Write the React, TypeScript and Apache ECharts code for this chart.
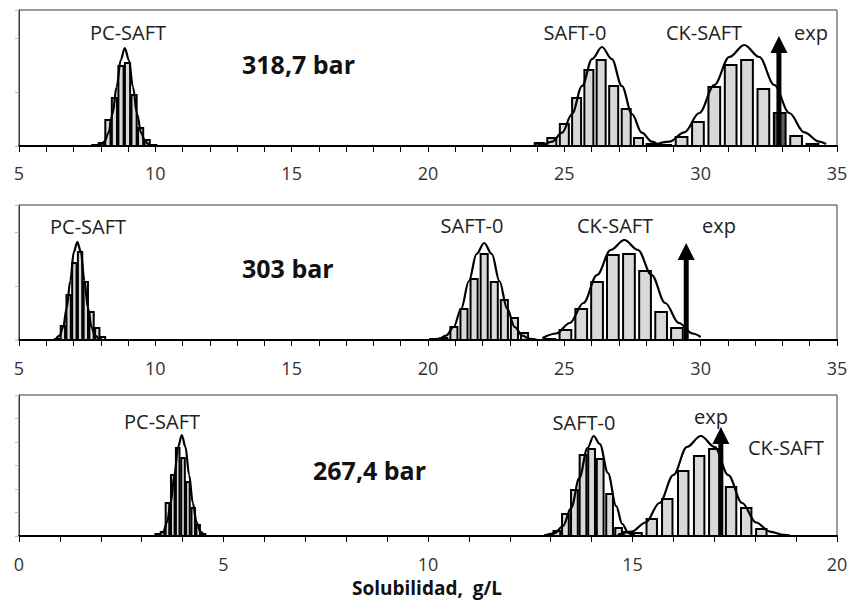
import React, { useEffect, useRef } from "react";
import * as echarts from "echarts";

// ---------- Data (x = solubility g/L, y = relative frequency) ----------
const modelNames = ["PC-SAFT", "SAFT-0", "CK-SAFT"];
const pressureLabels = ["318,7 bar", "303 bar", "267,4 bar"];
const expLabel = "exp";
const axisTitle = "Solubilidad,  g/L";

// Panel 1: 318,7 bar
const p1PcBars = [[7.78, 1], [8.02, 3], [8.26, 26], [8.5, 48], [8.74, 80], [8.98, 83], [9.22, 51], [9.46, 18], [9.7, 6], [9.94, 1]];
const p1PcCurve = [[7.83, 0.2], [7.98, 1.1], [8.13, 4.3], [8.28, 13], [8.43, 32], [8.58, 59], [8.73, 86], [8.88, 98], [9.03, 86], [9.18, 59], [9.33, 32], [9.48, 13], [9.63, 4.3], [9.78, 1.1], [9.93, 0.2]];
const p1SaftBars = [[24.08, 3], [24.54, 8], [25.0, 22], [25.45, 48], [25.9, 76], [26.35, 86], [26.81, 60], [27.27, 37], [27.72, 8], [28.18, 2]];
const p1SaftCurve = [[23.95, 0.3], [24.18, 1.1], [24.55, 4.3], [24.92, 13.4], [25.28, 32], [25.65, 60], [26.02, 87], [26.38, 99], [26.74, 87], [27.11, 60], [27.48, 32], [27.84, 13.4], [28.21, 4.3], [28.4, 2]];
const p1CkBars = [[28.7, 1], [29.3, 9], [29.9, 24], [30.5, 59], [31.1, 81], [31.7, 86], [32.3, 57], [32.9, 33], [33.5, 10], [34.1, 2]];
const p1CkCurve = [[28.3, 1.1], [28.85, 4.4], [29.4, 13.7], [29.95, 33], [30.5, 61], [31.05, 89], [31.6, 101], [32.15, 89], [32.7, 61], [33.25, 33], [33.8, 13.7], [34.35, 4.4], [34.6, 2]];
const p1Exp = [[32.87, 110]];

// Panel 2: 303 bar
const p2PcBars = [[6.4, 1], [6.61, 14], [6.82, 45], [7.03, 77], [7.24, 88], [7.45, 58], [7.66, 28], [7.87, 12], [8.08, 3]];
const p2PcCurve = [[6.36, 1.1], [6.49, 4.3], [6.62, 13], [6.75, 32], [6.88, 59], [7.01, 88], [7.14, 98], [7.27, 88], [7.4, 59], [7.53, 32], [7.66, 13], [7.79, 4.3], [7.92, 1.1]];
const p2SaftBars = [[20.21, 1], [20.58, 2], [20.95, 13], [21.32, 31], [21.69, 61], [22.06, 86], [22.43, 58], [22.8, 40], [23.17, 22], [23.54, 7]];
const p2SaftCurve = [[20.1, 0.2], [20.38, 1.1], [20.66, 4.3], [20.94, 13], [21.22, 31.5], [21.5, 59], [21.78, 86], [22.06, 97], [22.34, 86], [22.62, 59], [22.9, 31.5], [23.18, 13], [23.46, 4.3], [23.74, 1.1], [24.0, 0.2]];
const p2CkBars = [[24.45, 1], [25.04, 10], [25.62, 31], [26.2, 58], [26.78, 85], [27.37, 86], [27.96, 69], [28.55, 28], [29.13, 12]];
const p2CkCurve = [[24.2, 2], [24.7, 6.5], [25.2, 17], [25.7, 37], [26.2, 65], [26.7, 90], [27.2, 100], [27.7, 90], [28.2, 65], [28.7, 37], [29.2, 17], [29.7, 6.5], [30.0, 3]];
const p2Exp = [[29.47, 97]];

// Panel 3: 267,4 bar
const p3PcBars = [[3.38, 2], [3.51, 4], [3.63, 33], [3.76, 61], [3.88, 88], [4.01, 78], [4.13, 54], [4.26, 28], [4.38, 11], [4.51, 2]];
const p3PcCurve = [[3.44, 1.1], [3.53, 4.4], [3.62, 14], [3.71, 33], [3.8, 61], [3.89, 89], [3.98, 101], [4.07, 89], [4.16, 61], [4.25, 33], [4.34, 14], [4.43, 4.4], [4.52, 1.1]];
const p3SaftBars = [[12.95, 1], [13.15, 5], [13.36, 22], [13.58, 46], [13.79, 81], [14.0, 87], [14.21, 77], [14.44, 42], [14.66, 8], [14.87, 4]];
const p3SaftCurve = [[12.85, 0.5], [13.1, 3], [13.3, 10], [13.5, 28], [13.7, 58], [13.9, 88], [14.05, 100], [14.2, 92], [14.4, 63], [14.6, 30], [14.75, 12], [14.9, 3], [15.05, 0.5]];
const p3CkBars = [[15.1, 3], [15.47, 17], [15.85, 37], [16.24, 65], [16.63, 80], [17.0, 87], [17.41, 49], [17.78, 28], [18.15, 7]];
const p3CkCurve = [[14.64, 1.1], [14.98, 4.4], [15.32, 13.5], [15.66, 33], [16.0, 61], [16.33, 89], [16.67, 100], [17.01, 89], [17.34, 61], [17.68, 33], [18.02, 13.5], [18.36, 4.4], [18.7, 1.1], [18.85, 0.5]];
const p3Exp = [[17.16, 109]];

// ---------- Layout / style ----------
const FONT = "'Open Sans', 'Noto Sans', sans-serif";
const panels = [
  { top: 10, height: 136, xMin: 5, xMax: 35, yMax: 136, yInt: 54, labelMargin: 18,
    bars: [p1PcBars, p1SaftBars, p1CkBars], barW: [0.19, 0.33, 0.43],
    curves: [p1PcCurve, p1SaftCurve, p1CkCurve], exp: p1Exp },
  { top: 205, height: 135, xMin: 5, xMax: 35, yMax: 135, yInt: 54, labelMargin: 19,
    bars: [p2PcBars, p2SaftBars, p2CkBars], barW: [0.16, 0.26, 0.43],
    curves: [p2PcCurve, p2SaftCurve, p2CkCurve], exp: p2Exp },
  { top: 395, height: 141, xMin: 0, xMax: 20, yMax: 141, yInt: 23.5, labelMargin: 19,
    bars: [p3PcBars, p3SaftBars, p3CkBars], barW: [0.088, 0.165, 0.255],
    curves: [p3PcCurve, p3SaftCurve, p3CkCurve], exp: p3Exp },
];

// text positions [model labels..., exp, pressure]
const textPos = [
  { models: [[128, 32], [575, 32], [704, 32]], exp: [811, 32], press: [242, 64] },
  { models: [[88, 226], [472, 225], [615, 225]], exp: [719, 225], press: [242, 268] },
  { models: [[162, 421], [584, 422], [786, 447]], exp: [711, 416], press: [313, 470] },
];

export default function App() {
  const ref = useRef<HTMLDivElement>(null);

  useEffect(() => {
    if (!ref.current) return;
    const chart = echarts.init(ref.current, undefined, { renderer: "svg" });

    const grids: any[] = [];
    const xAxes: any[] = [];
    const yAxes: any[] = [];
    const series: any[] = [];
    const graphics: any[] = [];

    panels.forEach((p, i) => {
      grids.push({ left: 19, right: 19, top: p.top, height: p.height, show: true,
        borderColor: "#3a3a3a", borderWidth: 1, backgroundColor: "transparent" });
      xAxes.push({
        type: "value", gridIndex: i, min: p.xMin, max: p.xMax, interval: 5,
        axisLine: { show: true, onZero: false, lineStyle: { color: "#000", width: 2 } },
        axisTick: { show: true, length: 6, lineStyle: { color: "#000", width: 1 } },
        minorTick: { show: true, splitNumber: 5, length: 6, lineStyle: { color: "#000", width: 1 } },
        splitLine: { show: false }, minorSplitLine: { show: false },
        axisLabel: { fontSize: 18, color: "#333", fontFamily: FONT, margin: p.labelMargin },
      });
      yAxes.push({
        type: "value", gridIndex: i, min: 0, max: p.yMax, interval: p.yInt,
        axisLine: { show: true, lineStyle: { color: "#3a3a3a", width: 1 } },
        axisTick: { show: true, length: 4, lineStyle: { color: "#bbb" } },
        axisLabel: { show: false }, splitLine: { show: false },
      });

      const arrowX = p.exp[0][0];
      p.bars.forEach((data, k) => {
        const w = p.barW[k];
        series.push({
          type: "custom", xAxisIndex: i, yAxisIndex: i, data, silent: true, z: 2,
          renderItem: (_params: any, api: any) => {
            const x = api.value(0);
            const h = api.value(1);
            const a = api.coord([x - w / 2, h]);
            const b = api.coord([x + w / 2, 0]);
            const dark = arrowX > x - w / 2 && arrowX < x + w / 2;
            return {
              type: "rect",
              shape: { x: a[0], y: a[1], width: b[0] - a[0], height: b[1] - a[1] },
              style: { fill: dark ? "#5c5c5c" : "#d9d9d9", stroke: "#000", lineWidth: 2 },
            };
          },
        });
      });
      p.curves.forEach((data) => {
        series.push({
          type: "line", xAxisIndex: i, yAxisIndex: i, data, smooth: 0.35, smoothMonotone: "x",
          symbol: "none", silent: true, z: 3, lineStyle: { color: "#000", width: 2.2 },
        });
      });
      series.push({
        type: "custom", xAxisIndex: i, yAxisIndex: i, data: p.exp, silent: true, z: 4,
        renderItem: (_params: any, api: any) => {
          const base = api.coord([api.value(0), 0]);
          const tip = api.coord([api.value(0), api.value(1)]);
          const headH = 17, headW = 17, shaft = 5;
          return {
            type: "group",
            children: [
              { type: "rect", shape: { x: base[0] - shaft / 2, y: tip[1] + headH - 1, width: shaft, height: base[1] - tip[1] - headH + 1 }, style: { fill: "#000" } },
              { type: "polygon", shape: { points: [[tip[0], tip[1]], [tip[0] - headW / 2, tip[1] + headH], [tip[0] + headW / 2, tip[1] + headH]] }, style: { fill: "#000" } },
            ],
          };
        },
      });

      const tp = textPos[i];
      modelNames.forEach((name, k) => {
        graphics.push({ type: "text", x: tp.models[k][0], y: tp.models[k][1], silent: true,
          style: { text: name, fontSize: 20, fontFamily: FONT, fill: "#222", align: "center", verticalAlign: "middle" } });
      });
      graphics.push({ type: "text", x: tp.exp[0], y: tp.exp[1], silent: true,
        style: { text: expLabel, fontSize: 20, fontFamily: FONT, fill: "#222", align: "center", verticalAlign: "middle" } });
      graphics.push({ type: "text", x: tp.press[0], y: tp.press[1], silent: true,
        style: { text: pressureLabels[i], fontSize: 25, fontWeight: "bold", fontFamily: FONT, fill: "#111", align: "left", verticalAlign: "middle" } });
    });

    graphics.push({ type: "text", x: 427, y: 588, silent: true,
      style: { text: axisTitle, fontSize: 19, fontWeight: "bold", fontFamily: FONT, fill: "#111", align: "center", verticalAlign: "middle" } });

    chart.setOption({
      animation: false,
      backgroundColor: "#fff",
      grid: grids,
      xAxis: xAxes,
      yAxis: yAxes,
      series,
      graphic: graphics,
    });

    return () => chart.dispose();
  }, []);

  return (
    <div
      ref={ref}
      style={{ position: "fixed", left: 0, top: 0, width: 856, height: 600, background: "#fff" }}
    />
  );
}
